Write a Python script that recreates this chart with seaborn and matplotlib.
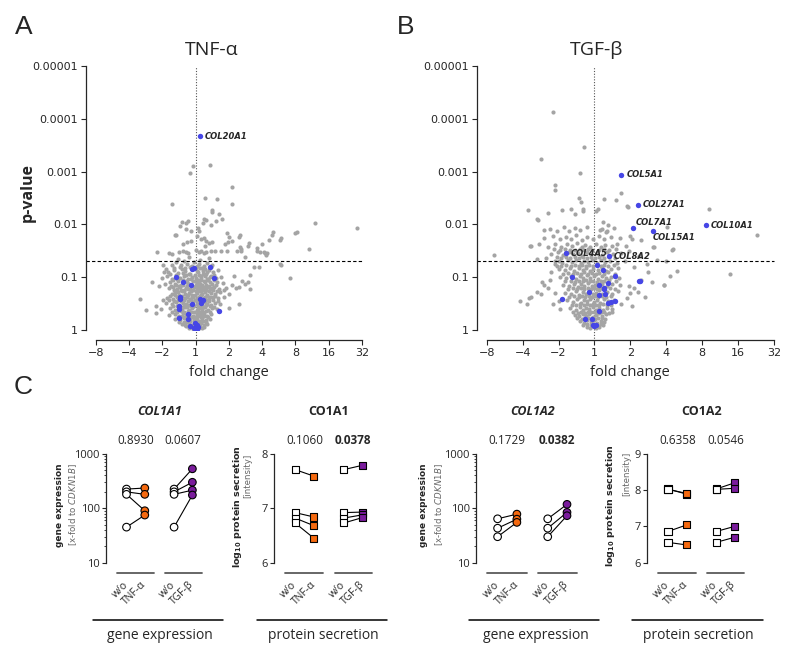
import math
import pandas as pd
import seaborn as sns
import matplotlib.pyplot as plt
from matplotlib.lines import Line2D

# ---------- volcano data: (log2 fold change, -log10 p) ----------
fc_tick_labels = ["\u22128", "\u22124", "\u22122", "1", "2", "4", "8", "16", "32"]
p_tick_labels = ["1", "0.1", "0.01", "0.001", "0.0001", "0.00001"]
p_cutoff = 0.05

tnf_gray = [
    (-0.07, 3.11), (-0.17, 2.98), (0.43, 3.12), (1.10, 2.70), (-0.71, 2.38), (0.29, 2.50),
    (0.64, 2.48), (1.10, 2.39), (0.49, 2.27), (0.49, 2.23), (0.71, 2.20), (0.78, 2.10),
    (0.60, 2.06), (0.45, 1.98), (0.25, 2.10), (0.30, 2.08), (0.22, 2.03), (-0.41, 2.05),
    (-0.30, 2.03), (-0.23, 2.06), (-0.46, 1.97), (-0.28, 1.92), (-0.15, 1.88), (0.08, 1.94),
    (0.11, 1.87), (-0.62, 1.80), (-0.58, 1.80), (-0.38, 1.62), (-0.27, 1.67), (-0.15, 1.69),
    (0.03, 1.78), (0.16, 1.72), (0.25, 1.75), (0.31, 1.68), (0.29, 1.59), (0.50, 1.66),
    (0.39, 1.64), (0.99, 1.77), (1.31, 1.76), (0.89, 1.63), (0.97, 1.66), (1.10, 1.68),
    (1.33, 1.57), (1.36, 1.54), (1.25, 1.50), (1.57, 1.59), (1.85, 1.50), (1.95, 1.48),
    (2.08, 1.45), (2.13, 1.42), (2.00, 1.62), (2.20, 1.71), (2.30, 1.80), (2.53, 1.70),
    (3.00, 1.83), (3.60, 2.03), (4.85, 1.94), (3.05, 1.86), (3.42, 1.53), (2.85, 0.98),
    (2.57, 1.24), (2.33, 1.85), (2.58, 1.74), (1.85, 1.55), (2.05, 1.47), (2.15, 1.45),
    (-1.15, 1.48), (-1.30, 0.90), (-1.67, 0.58), (-1.50, 0.38), (-1.20, 0.33), (-1.20, 0.45),
    (-1.05, 0.40), (-0.98, 0.56), (-0.92, 0.87), (-0.80, 1.45), (-0.72, 1.43), (-0.50, 1.47),
    (-0.38, 1.50), (-0.30, 1.48), (-0.24, 1.46), (0.00, 1.52), (0.10, 1.47), (0.15, 1.49),
    (0.25, 1.45), (0.30, 1.48), (0.45, 1.50), (0.57, 1.50), (0.76, 1.49), (0.95, 1.49),
    (1.65, 1.04), (1.30, 0.49), (1.00, 0.41), (1.20, 0.80), (1.40, 0.92), (1.50, 0.88),
    (0.85, 0.75), (1.00, 0.68), (2.55, 1.25), (0.95, 1.83), (1.33, 1.80), (1.60, 1.64),
    (1.36, 1.50), (1.50, 1.39), (1.75, 1.20), (1.90, 1.20), (1.15, 1.02), (1.30, 0.82),
    (1.10, 0.86), (1.58, 0.90), (1.65, 0.77), (-0.95, 1.10), (-0.97, 1.23), (-0.90, 1.16),
    (-1.00, 0.98), (-1.10, 0.84),
    # dense core
    (-0.72, 1.23), (-0.58, 1.29), (-0.47, 1.20), (-0.36, 1.31), (-0.27, 1.25), (-0.16, 1.19),
    (-0.06, 1.28), (0.04, 1.22), (0.14, 1.32), (0.24, 1.21), (0.33, 1.27), (0.49, 1.24),
    (-0.52, 1.35), (0.41, 1.36), (-0.20, 1.38),
    (-0.82, 1.10), (-0.64, 1.14), (-0.52, 1.08), (-0.41, 1.16), (-0.31, 1.11), (-0.21, 1.07),
    (-0.09, 1.15), (0.07, 1.09), (0.13, 1.17), (0.21, 1.12), (0.31, 1.06), (0.39, 1.14),
    (0.53, 1.10), (0.66, 1.13),
    (-0.86, 1.02), (-0.71, 0.97), (-0.60, 1.04), (-0.47, 0.99), (-0.34, 1.03), (-0.24, 0.96),
    (-0.12, 1.01), (0.02, 0.98), (0.09, 1.04), (0.17, 0.95), (0.27, 1.02), (0.36, 0.97),
    (0.46, 1.03), (0.61, 0.99), (0.76, 1.01),
    (-0.77, 0.91), (-0.63, 0.88), (-0.53, 0.93), (-0.43, 0.86), (-0.29, 0.92), (-0.19, 0.87),
    (-0.08, 0.93), (0.05, 0.89), (0.11, 0.92), (0.19, 0.86), (0.29, 0.90), (0.37, 0.94),
    (0.49, 0.87), (0.63, 0.91), (0.81, 0.89),
    (-0.81, 0.79), (-0.69, 0.82), (-0.56, 0.77), (-0.46, 0.81), (-0.36, 0.76), (-0.26, 0.83),
    (-0.16, 0.78), (-0.04, 0.81), (0.03, 0.77), (0.10, 0.83), (0.17, 0.79), (0.25, 0.76),
    (0.33, 0.82), (0.43, 0.78), (0.55, 0.81), (0.71, 0.77), (0.92, 0.80),
    (-0.72, 0.69), (-0.61, 0.72), (-0.51, 0.67), (-0.41, 0.73), (-0.31, 0.68), (-0.21, 0.71),
    (-0.11, 0.66), (0.04, 0.70), (0.12, 0.73), (0.20, 0.68), (0.27, 0.72), (0.35, 0.67),
    (0.45, 0.71), (0.58, 0.69), (0.73, 0.72),
    (-0.86, 0.61), (-0.67, 0.58), (-0.57, 0.63), (-0.45, 0.60), (-0.37, 0.57), (-0.27, 0.62),
    (-0.17, 0.59), (-0.07, 0.63), (0.05, 0.60), (0.13, 0.64), (0.21, 0.58), (0.29, 0.62),
    (0.39, 0.59), (0.51, 0.63), (0.66, 0.60), (0.84, 0.62),
    (-0.90, 0.51), (-0.71, 0.49), (-0.59, 0.53), (-0.49, 0.48), (-0.39, 0.52), (-0.29, 0.50),
    (-0.19, 0.47), (-0.09, 0.53), (0.03, 0.49), (0.11, 0.51), (0.19, 0.47), (0.27, 0.53),
    (0.35, 0.50), (0.45, 0.48), (0.57, 0.52), (0.74, 0.50),
    (-0.76, 0.41), (-0.63, 0.38), (-0.51, 0.42), (-0.41, 0.39), (-0.31, 0.43), (-0.21, 0.37),
    (-0.11, 0.41), (0.04, 0.38), (0.11, 0.42), (0.19, 0.39), (0.27, 0.43), (0.37, 0.37),
    (0.49, 0.41), (0.64, 0.39),
    (-0.79, 0.29), (-0.61, 0.31), (-0.50, 0.27), (-0.39, 0.32), (-0.29, 0.28), (-0.19, 0.31),
    (-0.09, 0.27), (0.03, 0.30), (0.10, 0.33), (0.17, 0.28), (0.25, 0.31), (0.35, 0.27),
    (0.47, 0.30),
    (-0.61, 0.21), (-0.46, 0.18), (-0.36, 0.22), (-0.26, 0.19), (-0.16, 0.23), (-0.06, 0.18),
    (0.05, 0.21), (0.12, 0.17), (0.20, 0.22), (0.30, 0.19), (0.42, 0.21),
    (-0.41, 0.12), (-0.31, 0.09), (-0.21, 0.13), (-0.11, 0.10), (0.01, 0.12), (0.08, 0.08),
    (0.16, 0.13), (0.25, 0.10), (0.35, 0.11),
    (-0.19, 0.04), (-0.09, 0.02), (0.00, 0.05), (0.09, 0.03), (0.18, 0.04),
]
tnf_core_extra = [
    (-0.66, 1.18), (-0.44, 1.24), (-0.33, 1.18), (-0.12, 1.22), (0.00, 1.17), (0.10, 1.25),
    (0.19, 1.18), (0.28, 1.16), (0.45, 1.19),
    (-0.76, 1.06), (-0.55, 1.02), (-0.38, 1.08), (-0.28, 1.05), (-0.16, 1.06), (-0.02, 1.05),
    (0.05, 1.12), (0.15, 1.03), (0.23, 1.07), (0.33, 1.10), (0.42, 1.00), (0.56, 1.05),
    (-0.68, 0.94), (-0.57, 0.97), (-0.38, 0.95), (-0.25, 0.90), (-0.14, 0.96), (-0.03, 0.92),
    (0.07, 0.95), (0.15, 0.99), (0.24, 0.93), (0.33, 0.96), (0.43, 0.91), (0.56, 0.94),
    (-0.74, 0.84), (-0.60, 0.86), (-0.50, 0.83), (-0.39, 0.85), (-0.30, 0.80), (-0.22, 0.88),
    (-0.11, 0.84), (0.00, 0.86), (0.07, 0.81), (0.14, 0.88), (0.22, 0.82), (0.30, 0.86),
    (0.40, 0.84), (0.50, 0.80), (0.60, 0.85),
    (-0.65, 0.75), (-0.54, 0.72), (-0.45, 0.76), (-0.35, 0.73), (-0.24, 0.77), (-0.15, 0.73),
    (-0.07, 0.75), (0.00, 0.73), (0.08, 0.76), (0.16, 0.74), (0.24, 0.79), (0.31, 0.75),
    (0.40, 0.74), (0.51, 0.76), (0.64, 0.74),
    (-0.76, 0.65), (-0.62, 0.66), (-0.50, 0.61), (-0.41, 0.65), (-0.32, 0.61), (-0.22, 0.66),
    (-0.12, 0.62), (-0.02, 0.66), (0.09, 0.62), (0.17, 0.66), (0.25, 0.60), (0.34, 0.65),
    (0.44, 0.63), (0.57, 0.65),
    (-0.80, 0.56), (-0.64, 0.55), (-0.53, 0.57), (-0.43, 0.54), (-0.34, 0.56), (-0.23, 0.54),
    (-0.13, 0.56), (-0.03, 0.57), (0.07, 0.55), (0.15, 0.57), (0.23, 0.55), (0.31, 0.57),
    (0.41, 0.55), (0.52, 0.56), (0.66, 0.55),
    (-0.68, 0.45), (-0.55, 0.46), (-0.45, 0.44), (-0.35, 0.46), (-0.25, 0.44), (-0.15, 0.45),
    (-0.05, 0.46), (0.07, 0.44), (0.15, 0.46), (0.23, 0.44), (0.31, 0.47), (0.42, 0.45),
    (0.56, 0.44),
    (-0.70, 0.35), (-0.55, 0.34), (-0.44, 0.36), (-0.34, 0.34), (-0.24, 0.36), (-0.14, 0.34),
    (-0.04, 0.35), (0.07, 0.36), (0.14, 0.35), (0.22, 0.34), (0.31, 0.36), (0.42, 0.34),
    (-0.52, 0.24), (-0.41, 0.26), (-0.31, 0.25), (-0.21, 0.26), (-0.11, 0.24), (-0.01, 0.25),
    (0.08, 0.26), (0.16, 0.24), (0.25, 0.26), (0.36, 0.24),
    (-0.50, 0.15), (-0.36, 0.16), (-0.26, 0.15), (-0.16, 0.17), (-0.06, 0.15), (0.04, 0.16),
    (0.12, 0.15), (0.21, 0.17), (0.30, 0.15),
    (-0.28, 0.07), (-0.14, 0.06), (-0.05, 0.08), (0.04, 0.07), (0.13, 0.08), (0.24, 0.06),
]
tnf_blue = [
    (0.12, 3.67), (-0.11, 1.16), (-0.04, 1.18), (0.43, 1.19), (-0.58, 1.00), (0.56, 0.98),
    (-0.38, 0.90), (-0.13, 0.86), (-0.47, 0.62), (-0.47, 0.59), (0.12, 0.58), (0.22, 0.56),
    (0.16, 0.52), (-0.12, 0.50), (-0.51, 0.46), (-0.51, 0.39), (0.70, 0.36), (-0.24, 0.31),
    (-0.51, 0.22), (-0.24, 0.20), (-0.18, 0.08), (-0.03, 0.14), (0.05, 0.10), (0.00, 0.05),
    (0.03, 0.02), (-0.04, 0.04), (0.06, 0.06),
]
tnf_labels = {"COL20A1": (0.12, 3.67)}

tgf_gray = [
    (-1.16, 4.12), (-0.28, 3.47), (-1.48, 3.24), (-0.39, 2.98), (-1.10, 2.75), (-1.10, 2.65),
    (0.75, 2.60), (0.28, 2.49), (0.60, 2.46), (0.90, 2.35), (0.93, 2.33), (-0.42, 2.50),
    (-0.38, 2.43), (-0.31, 2.30), (-0.33, 2.25), (-1.86, 2.27), (-0.90, 2.27), (-0.65, 2.30),
    (-1.60, 2.10), (-1.30, 2.22), (-0.55, 2.20), (0.05, 2.25), (0.10, 2.30), (0.25, 2.05),
    (0.38, 1.99), (0.20, 1.92), (0.36, 1.88), (3.20, 2.30), (4.54, 1.80), (2.01, 1.96),
    (2.17, 1.52), (1.64, 1.58), (1.30, 1.70), (1.00, 1.78), (1.05, 1.72), (-1.56, 2.08),
    (-1.40, 1.90), (-1.80, 1.60), (-1.55, 1.62), (-2.80, 1.42), (-1.60, 1.35), (-1.35, 1.36),
    (-1.77, 1.60), (3.78, 1.06), (2.29, 1.12), (2.10, 1.03), (1.94, 0.86), (-2.07, 0.54),
    (-1.89, 0.49), (-1.60, 0.72), (-1.50, 0.68), (-1.78, 0.63), (-1.82, 0.61), (-1.40, 0.85),
    (-1.30, 0.80), (-1.45, 0.90), (-1.05, 1.22), (-1.00, 1.30), (-1.10, 1.25), (1.99, 1.31),
    (1.73, 1.33), (2.18, 1.53), (1.95, 0.85), (1.66, 1.58), (0.50, 0.35), (0.75, 0.50),
    (0.90, 0.60), (1.00, 0.70), (1.10, 0.80), (1.20, 0.72), (1.40, 0.62), (1.05, 0.45),
    (1.30, 0.95), (1.50, 1.10), (1.60, 0.90), (1.10, 1.20), (1.25, 1.40), (0.95, 1.50),
    (1.45, 1.25), (-1.20, 1.10), (-1.25, 0.95), (-1.10, 0.70), (-1.00, 0.55), (-0.95, 0.40),
    (-1.15, 0.50),
    # dense core
    (-1.25, 1.92), (-1.05, 1.88), (-0.85, 1.95), (-0.70, 1.87), (-0.55, 1.93), (-0.40, 1.89),
    (-0.22, 1.96), (0.15, 1.90), (0.32, 1.86), (0.55, 1.93),
    (-1.40, 1.74), (-1.15, 1.78), (-0.95, 1.72), (-0.80, 1.77), (-0.65, 1.73), (-0.50, 1.79),
    (-0.36, 1.71), (-0.20, 1.76), (-0.05, 1.72), (0.12, 1.78), (0.28, 1.73), (0.45, 1.77),
    (0.70, 1.74),
    (-1.30, 1.58), (-1.10, 1.63), (-0.92, 1.57), (-0.76, 1.62), (-0.62, 1.59), (-0.48, 1.64),
    (-0.36, 1.57), (-0.25, 1.61), (-0.12, 1.58), (0.05, 1.63), (0.18, 1.57), (0.30, 1.61),
    (0.48, 1.59), (0.64, 1.62), (0.88, 1.60),
    (-1.20, 1.44), (-1.02, 1.47), (-0.88, 1.42), (-0.72, 1.48), (-0.60, 1.43), (-0.46, 1.46),
    (-0.34, 1.41), (-0.22, 1.47), (-0.10, 1.43), (0.07, 1.46), (0.20, 1.42), (0.34, 1.48),
    (0.52, 1.44), (0.75, 1.46),
    (-1.10, 1.31), (-0.90, 1.27), (-0.75, 1.33), (-0.62, 1.28), (-0.50, 1.32), (-0.38, 1.26),
    (-0.28, 1.31), (-0.17, 1.29), (-0.06, 1.33), (0.06, 1.27), (0.18, 1.32), (0.30, 1.28),
    (0.44, 1.31), (0.62, 1.27), (0.85, 1.30),
    (-1.00, 1.16), (-0.82, 1.13), (-0.68, 1.18), (-0.56, 1.12), (-0.44, 1.17), (-0.33, 1.14),
    (-0.23, 1.18), (-0.13, 1.12), (-0.03, 1.16), (0.09, 1.13), (0.20, 1.17), (0.32, 1.12),
    (0.46, 1.15), (0.65, 1.18),
    (-0.95, 1.01), (-0.78, 0.98), (-0.64, 1.03), (-0.52, 0.97), (-0.41, 1.02), (-0.31, 0.99),
    (-0.21, 1.04), (-0.11, 0.98), (-0.02, 1.02), (0.10, 0.97), (0.21, 1.03), (0.33, 0.99),
    (0.47, 1.01), (0.68, 0.98),
    (-0.88, 0.86), (-0.70, 0.83), (-0.58, 0.88), (-0.47, 0.82), (-0.37, 0.87), (-0.28, 0.84),
    (-0.18, 0.89), (-0.08, 0.83), (0.02, 0.86), (0.11, 0.82), (0.22, 0.88), (0.34, 0.84),
    (0.50, 0.87), (0.70, 0.85), (0.95, 0.83),
    (-0.82, 0.71), (-0.64, 0.68), (-0.52, 0.73), (-0.42, 0.67), (-0.33, 0.72), (-0.24, 0.69),
    (-0.14, 0.74), (-0.05, 0.68), (0.04, 0.71), (0.12, 0.75), (0.22, 0.68), (0.34, 0.72),
    (0.49, 0.69), (0.66, 0.73),
    (-0.76, 0.56), (-0.60, 0.53), (-0.48, 0.58), (-0.38, 0.52), (-0.29, 0.57), (-0.20, 0.54),
    (-0.11, 0.59), (-0.02, 0.53), (0.07, 0.56), (0.16, 0.52), (0.26, 0.58), (0.38, 0.54),
    (0.55, 0.57),
    (-0.68, 0.41), (-0.52, 0.38), (-0.41, 0.43), (-0.32, 0.37), (-0.23, 0.42), (-0.14, 0.39),
    (-0.05, 0.44), (0.04, 0.38), (0.13, 0.41), (0.23, 0.37), (0.35, 0.42), (0.50, 0.40),
    (-0.55, 0.29), (-0.42, 0.26), (-0.32, 0.31), (-0.23, 0.27), (-0.14, 0.30), (-0.05, 0.25),
    (0.04, 0.29), (0.12, 0.32), (0.21, 0.26), (0.32, 0.30),
    (-0.40, 0.17), (-0.30, 0.14), (-0.20, 0.18), (-0.10, 0.15), (0.00, 0.19), (0.08, 0.13),
    (0.17, 0.17), (0.27, 0.15),
    (-0.22, 0.06), (-0.12, 0.03), (-0.03, 0.07), (0.05, 0.04), (0.14, 0.06),
]
tgf_core_extra = [
    (-1.12, 1.53), (-0.97, 1.51), (-0.82, 1.54), (-0.67, 1.52), (-0.54, 1.51), (-0.41, 1.53),
    (-0.29, 1.52), (-0.18, 1.54), (-0.06, 1.51), (0.12, 1.52), (0.26, 1.54), (0.40, 1.52),
    (0.60, 1.53),
    (-1.05, 1.38), (-0.94, 1.36), (-0.80, 1.38), (-0.67, 1.37), (-0.55, 1.39), (-0.42, 1.36),
    (-0.31, 1.38), (-0.20, 1.37), (-0.09, 1.39), (0.02, 1.36), (0.13, 1.38), (0.26, 1.37),
    (0.40, 1.39), (0.58, 1.36),
    (-0.92, 1.22), (-0.78, 1.24), (-0.66, 1.22), (-0.55, 1.23), (-0.44, 1.21), (-0.34, 1.24),
    (-0.24, 1.22), (-0.14, 1.23), (-0.04, 1.21), (0.07, 1.23), (0.17, 1.22), (0.27, 1.24),
    (0.39, 1.21), (0.54, 1.23),
    (-0.88, 1.07), (-0.74, 1.08), (-0.61, 1.06), (-0.49, 1.08), (-0.38, 1.07), (-0.28, 1.09),
    (-0.18, 1.07), (-0.08, 1.08), (0.03, 1.06), (0.14, 1.08), (0.26, 1.07), (0.39, 1.09),
    (0.56, 1.07),
    (-0.82, 0.92), (-0.66, 0.93), (-0.53, 0.91), (-0.42, 0.93), (-0.32, 0.92), (-0.23, 0.94),
    (-0.13, 0.92), (-0.03, 0.93), (0.07, 0.91), (0.17, 0.93), (0.28, 0.92), (0.41, 0.94),
    (0.59, 0.92),
    (-0.75, 0.78), (-0.60, 0.79), (-0.48, 0.77), (-0.38, 0.79), (-0.28, 0.78), (-0.19, 0.80),
    (-0.10, 0.78), (0.00, 0.79), (0.08, 0.77), (0.17, 0.79), (0.28, 0.78), (0.42, 0.80),
    (0.58, 0.78),
    (-0.70, 0.63), (-0.56, 0.64), (-0.44, 0.62), (-0.34, 0.64), (-0.25, 0.63), (-0.16, 0.65),
    (-0.07, 0.63), (0.02, 0.64), (0.11, 0.62), (0.21, 0.64), (0.31, 0.63), (0.45, 0.64),
    (-0.62, 0.48), (-0.50, 0.47), (-0.40, 0.49), (-0.30, 0.47), (-0.22, 0.49), (-0.13, 0.48),
    (-0.04, 0.49), (0.05, 0.47), (0.14, 0.48), (0.23, 0.49), (0.34, 0.47), (0.46, 0.48),
    (-0.60, 0.34), (-0.47, 0.33), (-0.37, 0.35), (-0.27, 0.33), (-0.18, 0.35), (-0.09, 0.34),
    (0.00, 0.35), (0.08, 0.33), (0.17, 0.35), (0.27, 0.34), (0.40, 0.33),
    (-0.48, 0.22), (-0.36, 0.21), (-0.26, 0.23), (-0.17, 0.22), (-0.08, 0.23), (0.02, 0.21),
    (0.11, 0.23), (0.20, 0.22), (0.30, 0.21),
    (-0.32, 0.10), (-0.20, 0.11), (-0.10, 0.09), (-0.01, 0.11), (0.08, 0.10), (0.18, 0.11),
    (0.25, 0.09),
]
tgf_blue = [
    (0.75, 2.94), (1.20, 2.37), (1.07, 1.94), (1.63, 1.88), (3.11, 1.98), (-0.80, 1.45),
    (0.40, 1.41), (0.08, 1.24), (0.23, 1.14), (0.57, 1.03), (-0.63, 1.00), (1.23, 0.93),
    (1.26, 0.93), (0.13, 0.86), (0.38, 0.89), (0.26, 0.80), (0.28, 0.77), (-0.15, 0.72),
    (0.14, 0.67), (0.29, 0.69), (0.38, 0.52), (0.46, 0.53), (0.57, 0.55), (-0.89, 0.59),
    (0.13, 0.36), (-0.26, 0.20), (-0.07, 0.20), (-0.05, 0.10), (0.00, 0.08), (0.05, 0.10),
]
tgf_labels = {
    "COL5A1": (0.75, 2.94), "COL27A1": (1.20, 2.37), "COL7A1": (1.07, 1.94),
    "COL15A1": (1.63, 1.88), "COL10A1": (3.11, 1.98), "COL4A5": (-0.80, 1.45),
    "COL8A2": (0.40, 1.41),
}
label_offsets = {"COL7A1": (2, 4), "COL15A1": (0, -5), "COL8A2": (3.5, -1)}

# ---------- paired donor data (panel C) ----------
pair_ticks = ["w/o", "TNF-\u03b1", "w/o", "TGF-\u03b2"]

col1a1_wo = [225, 200, 180, 45]
col1a1_tnf = [235, 180, 90, 75]
col1a1_tgf = [530, 300, 215, 175]

co1a1_wo = [7.71, 6.92, 6.82, 6.73]
co1a1_tnf = [7.59, 6.84, 6.68, 6.45]
co1a1_tgf = [7.79, 6.93, 6.88, 6.83]

col1a2_wo = [64, 43, 30]
col1a2_tnf = [78, 63, 55]
col1a2_tgf = [118, 84, 73]

co1a2_wo = [8.03, 8.02, 6.86, 6.56]
co1a2_tnf = [7.89, 7.91, 7.04, 6.49]
co1a2_tgf = [8.20, 8.05, 7.00, 6.70]

pvals = {
    "COL1A1": ["0.8930", "0.0607"],
    "CO1A1": ["0.1060", "0.0378"],
    "COL1A2": ["0.1729", "0.0382"],
    "CO1A2": ["0.6358", "0.0546"],
}

GRAY = "#a4a4a4"
BLUE = "#4646e6"
ORANGE = "#f5690f"
PURPLE = "#7a1c9c"

W, H = 794, 659
sns.set_style("ticks")
plt.rcParams["font.family"] = ["DejaVu Sans"]
fig = plt.figure(figsize=(W / 100, H / 100), dpi=100)


def px_axes(left, top, right, bottom):
    return fig.add_axes([left / W, 1 - bottom / H, (right - left) / W, (bottom - top) / H])


def ftext(px, py, s, **kw):
    fig.text(px / W, 1 - py / H, s, ha="center", va="center", **kw)


def volcano(box, gray, blue, labels, spine_gap):
    ax = px_axes(*box)
    g = pd.DataFrame(gray, columns=["log2fc", "nlogp"])
    b = pd.DataFrame(blue, columns=["log2fc", "nlogp"])
    sns.scatterplot(data=g, x="log2fc", y="nlogp", color=GRAY, s=9, linewidth=0, ax=ax, zorder=2)
    sns.scatterplot(data=b, x="log2fc", y="nlogp", color=BLUE, s=15, linewidth=0, ax=ax, zorder=3)
    ax.set_xlim(-3, 5)
    ax.set_ylim(0, 5)
    ax.set_xticks(range(-3, 6))
    ax.set_xticklabels(fc_tick_labels)
    ax.set_yticks(range(0, 6))
    ax.set_yticklabels(p_tick_labels)
    ax.set_xlabel("")
    ax.set_ylabel("")
    ax.tick_params(labelsize=8, length=3.5, width=0.8, pad=2)
    for side in ["top", "right"]:
        ax.spines[side].set_visible(False)
    for side in ["left", "bottom"]:
        ax.spines[side].set_position(("outward", 7.2))
        ax.spines[side].set_linewidth(0.9)
    cut = -math.log10(p_cutoff)
    ax.plot([spine_gap, 1], [cut, cut], transform=ax.get_yaxis_transform(),
            ls=(0, (3, 2)), color="black", lw=0.8, clip_on=False)
    ax.plot([0, 0], [-0.042, 1], transform=ax.get_xaxis_transform(),
            ls=(0, (1, 1.5)), color="#555555", lw=0.8, clip_on=False, zorder=1)
    for name, (x, y) in labels.items():
        ax.annotate(name, (x, y), xytext=label_offsets.get(name, (3.5, 0)),
                    textcoords="offset points", ha="left", va="center",
                    fontsize=6, fontweight="bold", fontstyle="italic")
    return ax


ax_a = volcano((95.7, 66, 362, 330), tnf_gray + tnf_core_extra, tnf_blue, tnf_labels, -0.036)
ax_b = volcano((486.7, 66, 774, 330), tgf_gray + tgf_core_extra, tgf_blue, tgf_labels, -0.034)

ftext(212, 50, "TNF-\u03b1", fontsize=14, family="Open Sans")
ftext(597, 50, "TGF-\u03b2", fontsize=14, family="Open Sans")
ftext(28, 193, "p-value", fontsize=11.5, fontweight="bold", family="Open Sans", rotation=90)
ftext(229, 372, "fold change", fontsize=10.5, family="Open Sans")
ftext(630, 372, "fold change", fontsize=10.5, family="Open Sans")

ftext(24, 27, "A", fontsize=19, family="Liberation Sans")
ftext(406, 27, "B", fontsize=19, family="Liberation Sans")
ftext(23, 387, "C", fontsize=19, family="Liberation Sans")

pos = [0, 1, 2.6, 3.6]


def paired(left, scale, wo, tnf, tgf, marker, title, italic, log, ylim, yticks):
    top, bottom = 453.8, 562.7
    xl, xr = -1.12, 4.3
    ax = px_axes(left, top, left + (xr - xl) * scale, bottom)
    for a, b, c in zip(wo, tnf, tgf):
        ax.plot(pos[:2], [a, b], color="black", lw=0.8, zorder=1)
        ax.plot(pos[2:], [a, c], color="black", lw=0.8, zorder=1)
    df = pd.DataFrame({
        "x": [pos[0]] * len(wo) + [pos[1]] * len(tnf) + [pos[2]] * len(wo) + [pos[3]] * len(tgf),
        "val": wo + tnf + wo + tgf,
        "cond": ["wo"] * len(wo) + ["tnf"] * len(tnf) + ["wo"] * len(wo) + ["tgf"] * len(tgf),
    })
    size = 30 if marker == "o" else 26
    sns.scatterplot(data=df, x="x", y="val", hue="cond", marker=marker, s=size,
                    palette={"wo": "white", "tnf": ORANGE, "tgf": PURPLE},
                    edgecolor="black", linewidth=0.8, legend=False, ax=ax, zorder=3)
    if log:
        ax.set_yscale("log")
    ax.set_xlim(xl, xr)
    ax.set_ylim(*ylim)
    ax.set_yticks(yticks)
    ax.set_yticklabels([str(t) for t in yticks])
    ax.set_xlabel("")
    ax.set_ylabel("")
    ax.set_xticks(pos)
    ax.set_xticklabels(pair_ticks, rotation=45, ha="right", va="center",
                       rotation_mode="anchor", family="Open Sans", fontsize=7.5)
    ax.tick_params(axis="x", length=0, pad=15)
    ax.tick_params(axis="y", labelsize=8, length=3, width=0.8, pad=1.5)
    ax.tick_params(axis="y", which="minor", length=1.8, width=0.6)
    for side in ["top", "right", "bottom"]:
        ax.spines[side].set_visible(False)
    ax.spines["left"].set_linewidth(0.9)
    for lo, hi in [(-0.53, 1.5), (2.1, 4.1)]:
        ax.plot([lo, hi], [-0.092, -0.092], transform=ax.get_xaxis_transform(),
                color="#5a5a5a", lw=1.3, clip_on=False)
    tr = ax.get_xaxis_transform()
    for cx, p in zip([0.5, 3.1], pvals[title]):
        ax.text(cx, 1.12, p, transform=tr, ha="center", va="center", fontsize=8.5,
                family="Open Sans", fontweight="bold" if float(p) < 0.05 else "normal")
    ax.text(1.8, 1.385, title, transform=tr, ha="center", va="center", fontsize=9,
            family="Open Sans", fontweight="bold", fontstyle="italic" if italic else "normal")
    for t in ax.get_yticklabels():
        t.set_family("Open Sans")
    return ax


paired(106, 18.3, col1a1_wo, col1a1_tnf, col1a1_tgf, "o", "COL1A1", True, True, (10, 1000), [10, 100, 1000])
paired(274, 18.8, co1a1_wo, co1a1_tnf, co1a1_tgf, "s", "CO1A1", False, False, (6, 8), [6, 7, 8])
paired(476, 19.28, col1a2_wo, col1a2_tnf, col1a2_tgf, "o", "COL1A2", True, True, (10, 1000), [10, 100, 1000])
paired(647.3, 18.5, co1a2_wo, co1a2_tnf, co1a2_tgf, "s", "CO1A2", False, False, (6, 9), [6, 7, 8, 9])

# y labels of the small panels
gene_lab = "[x-fold to $\\it{CDKN1B}$]"
prot_lab = "log$_{\\mathbf{10}}$ protein secretion"
for bx, gx in [(60, 73), (424, 439.3)]:
    ftext(bx, 505, "gene expression", fontsize=6.5, fontweight="bold", rotation=90)
    ftext(gx, 505, gene_lab, fontsize=6.2, color="#666666", rotation=90)
for bx, by, gx, gy in [(237, 507, 247.3, 476), (610.3, 506, 626.3, 473.5)]:
    ftext(bx, by, prot_lab, fontsize=6.8, fontweight="bold", rotation=90)
    ftext(gx, gy, "[intensity]", fontsize=6.2, color="#666666", rotation=90)

# group brackets below the small panels
for x0, x1, cx, name in [(93, 222.7, 160, "gene expression"), (256.7, 386.7, 323, "protein secretion"),
                         (469, 599, 536.3, "gene expression"), (632.3, 762.7, 698.7, "protein secretion")]:
    fig.add_artist(Line2D([x0 / W, x1 / W], [1 - 620 / H] * 2, color="black", lw=1.1))
    ftext(cx, 635.5, name, fontsize=10, family="Open Sans")

fig.savefig("out.png", dpi=100)
